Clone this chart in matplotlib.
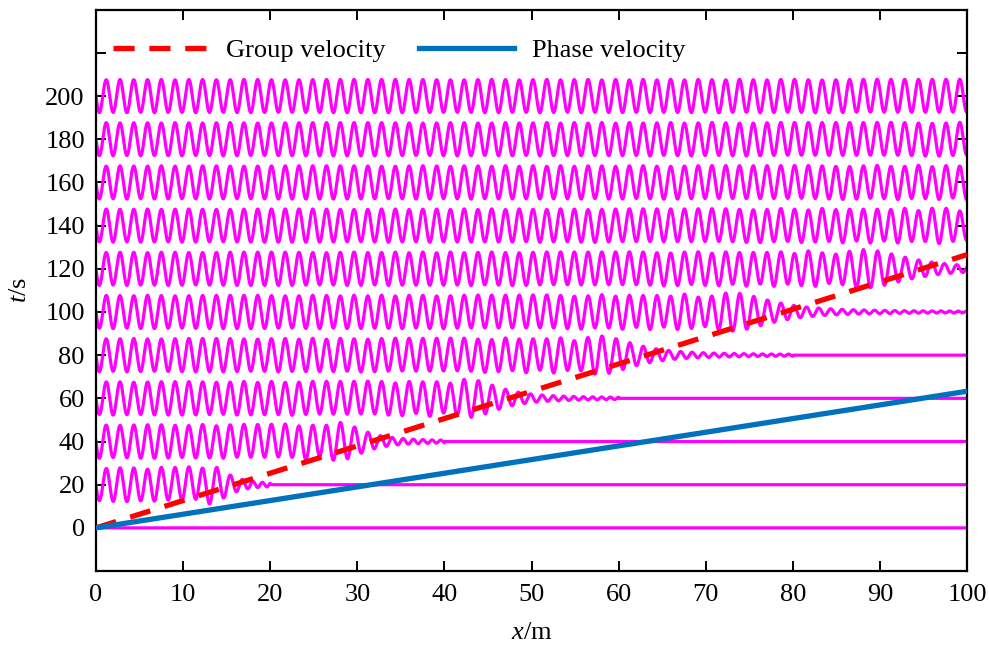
import numpy as np
import matplotlib
matplotlib.use("Agg")
import matplotlib.pyplot as plt

plt.rcParams['font.family'] = ['Liberation Serif', 'DejaVu Serif']
plt.rcParams['mathtext.fontset'] = 'custom'
plt.rcParams['mathtext.it'] = 'Liberation Serif:italic'
plt.rcParams['mathtext.rm'] = 'Liberation Serif'

# snapshot times (s) and wave parameters
times = [0, 20, 40, 60, 80, 100, 120, 140, 160, 180, 200]
amplitude = 7.6        # drawn height of the waves, in t units
period = 1.0           # wave period (s)
c_phase = 1.58         # m/s, blue line reaches t=63 at x=100
c_group = 0.79         # m/s, red line reaches t=126 at x=100
spread = 0.5           # width of the front ~ spread*sqrt(t)
x_range = [0, 100]
y_ticks = [-20, 0, 20, 40, 60, 80, 100, 120, 140, 160, 180, 200, 220, 240]
y_labels = ['', '0', '20', '40', '60', '80', '100', '120', '140', '160', '180', '200', '', '']
x_ticks = [0, 10, 20, 30, 40, 50, 60, 70, 80, 90, 100]

omega = 2 * np.pi / period
k = omega / c_phase

# fresnel integrals table
u = np.linspace(-30, 30, 600001)
du = u[1] - u[0]
C = np.cumsum(np.cos(np.pi * u**2 / 2)) * du
S = np.cumsum(np.sin(np.pi * u**2 / 2)) * du
i0 = len(u) // 2
C -= C[i0]
S -= S[i0]


def front(s):
    c = np.interp(s, u, C)
    sn = np.interp(s, u, S)
    return (1 + 1j) / 2 * ((1 - 1j) / 2 - c + 1j * sn)


x = np.linspace(0, 100, 20001)

fig = plt.figure(figsize=(9.89, 6.46), dpi=100)
ax = fig.add_axes([0.097, 0.116, 0.881, 0.869])

for t in times:
    if t == 0:
        eta = np.zeros_like(x)
    else:
        w = spread * np.sqrt(t)
        s = (x - c_group * t) / w
        A = front(s)
        eta = amplitude * np.imag(A * np.exp(1j * (omega * t - k * x)))
        eta[x > t] = 0
    ax.plot(x, t + eta, color='#ff00ff', lw=2.3, zorder=2)

xx = np.array(x_range)
ax.plot(xx, xx / c_group, color='#ff0000', lw=3.8, dashes=(4, 2.8),
        label='Group velocity', zorder=3)
ax.plot(xx, xx / c_phase, color='#0072bd', lw=3.8,
        label='Phase velocity', zorder=3)

ax.set_xlim(0, 100)
ax.set_ylim(-20, 240)
ax.set_xticks(x_ticks)
ax.set_yticks(y_ticks)
ax.set_yticklabels(y_labels)
ax.tick_params(direction='in', length=7, width=1.4, labelsize=19,
               top=True, right=True)
ax.tick_params(axis='x', pad=9)
ax.tick_params(axis='y', pad=8)
for sp in ax.spines.values():
    sp.set_linewidth(1.6)

ax.set_xlabel(r'$\mathit{x}$/m', fontsize=19, labelpad=12)
ax.set_ylabel(r'$\mathit{t}$/s', fontsize=19, labelpad=10)

ax.legend(loc='center left', bbox_to_anchor=(0.02, 0.928), ncol=2,
          frameon=False, fontsize=19, handlelength=3.6, handletextpad=0.65,
          columnspacing=1.3, borderpad=0, borderaxespad=0)

plt.savefig('out.png', dpi=100)
